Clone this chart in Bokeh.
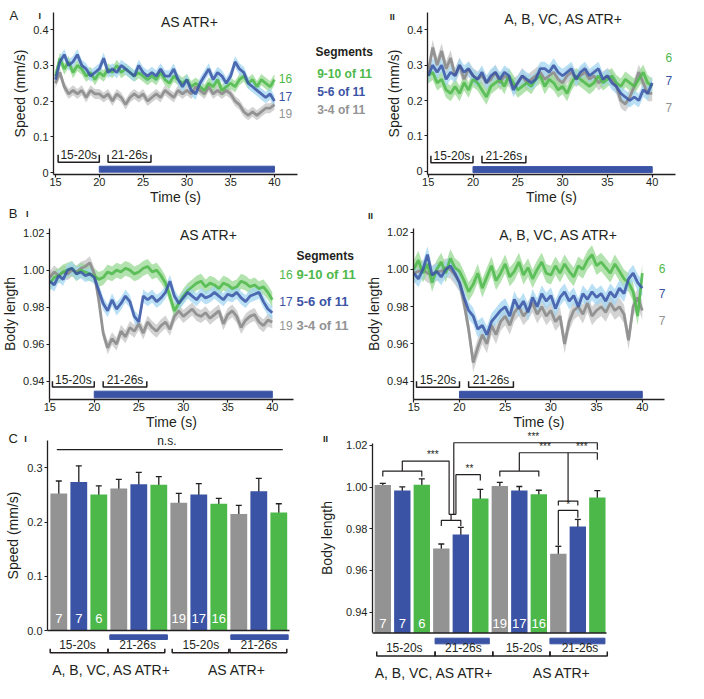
import numpy as np
from bokeh.plotting import figure
from bokeh.models import (Range1d, Label, FixedTicker, ColumnDataSource, Whisker, TeeHead,
                          LinearAxis, PrintfTickFormatter)
from bokeh.layouts import column, row
from bokeh.embed import file_html
from bokeh.resources import INLINE
from bokeh.core.properties import value

FONT = "Liberation Sans"
TXT = "#231f20"
GRAY, BLUE, GREEN = "#939393", "#3a53a4", "#4db84a"
GRAY_B, BLUE_B, GREEN_B = "#c4c4c4", "#a3d6f1", "#98d892"

# ---------------- data ----------------
time = np.arange(15.0, 40.01, 0.5)
stim_on, stim_off = 20.0, 40.0
win_start = [15.3, 21.0]
win_end = [20.0, 25.9]
win_labels = ["15-20s", "21-26s"]
seg_labels = ["9-10 of 11", "5-6 of 11", "3-4 of 11"]   # green, blue, gray
n_as = [19, 17, 16]       # gray, blue, green (AS ATR+)
n_all = [7, 7, 6]         # gray, blue, green (A, B, VC, AS ATR+)

# A-I speed, AS ATR+
speed_as_green = [0.27,0.32,0.29,0.31,0.28,0.30,0.29,0.27,0.28,0.26,
                  0.28,0.27,0.29,0.28,0.30,0.28,0.29,0.28,0.27,0.28,
                  0.27,0.26,0.27,0.26,0.28,0.26,0.25,0.27,0.26,0.25,
                  0.26,0.24,0.25,0.24,0.23,0.25,0.24,0.26,0.23,0.24,
                  0.25,0.24,0.26,0.27,0.25,0.26,0.24,0.26,0.25,0.24,
                  0.26]
speed_as_blue = [0.26,0.31,0.33,0.30,0.31,0.33,0.30,0.29,0.27,0.28,
                 0.29,0.32,0.28,0.29,0.28,0.30,0.29,0.28,0.27,0.30,
                 0.28,0.27,0.28,0.27,0.29,0.27,0.27,0.29,0.26,0.24,
                 0.26,0.23,0.22,0.25,0.27,0.29,0.26,0.28,0.27,0.25,
                 0.27,0.31,0.29,0.28,0.25,0.24,0.23,0.22,0.21,0.22,
                 0.20]
speed_as_gray = [0.25,0.28,0.24,0.22,0.23,0.22,0.23,0.21,0.23,0.22,
                 0.22,0.21,0.22,0.20,0.22,0.21,0.19,0.21,0.22,0.21,
                 0.22,0.20,0.21,0.22,0.21,0.23,0.22,0.21,0.23,0.22,
                 0.23,0.22,0.24,0.23,0.22,0.24,0.22,0.23,0.22,0.23,
                 0.22,0.20,0.19,0.17,0.16,0.17,0.16,0.17,0.18,0.18,
                 0.19]
# A-II speed, A, B, VC, AS ATR+
speed_all_gray = [0.28,0.35,0.30,0.34,0.29,0.32,0.27,0.30,0.26,0.29,
                  0.27,0.26,0.27,0.25,0.26,0.28,0.25,0.27,0.26,0.24,
                  0.25,0.27,0.25,0.26,0.27,0.28,0.26,0.27,0.28,0.26,
                  0.25,0.27,0.28,0.26,0.27,0.28,0.26,0.27,0.25,0.26,
                  0.27,0.26,0.24,0.20,0.19,0.21,0.24,0.28,0.25,0.22,
                  0.22]
speed_all_blue = [0.27,0.30,0.28,0.30,0.26,0.28,0.27,0.30,0.28,0.29,
                  0.27,0.26,0.28,0.25,0.27,0.28,0.26,0.28,0.27,0.23,
                  0.25,0.27,0.26,0.25,0.26,0.29,0.29,0.28,0.30,0.28,
                  0.27,0.28,0.29,0.26,0.28,0.29,0.27,0.28,0.29,0.26,
                  0.27,0.25,0.24,0.22,0.21,0.20,0.21,0.20,0.23,0.22,
                  0.25]
speed_all_green = [0.27,0.28,0.25,0.26,0.23,0.22,0.24,0.22,0.25,0.23,
                   0.26,0.25,0.23,0.21,0.24,0.25,0.26,0.24,0.27,0.25,
                   0.23,0.24,0.25,0.24,0.26,0.27,0.24,0.26,0.25,0.23,
                   0.24,0.22,0.25,0.27,0.26,0.25,0.24,0.25,0.27,0.25,
                   0.26,0.27,0.25,0.24,0.26,0.25,0.24,0.26,0.28,0.25,
                   0.24]
# B-I body length, AS ATR+
bl_as_green = [0.993,0.996,0.997,0.999,1.000,1.001,0.998,1.000,0.999,0.998,
               0.997,0.995,0.996,0.999,0.998,1.000,0.999,1.001,1.000,0.998,
               0.999,1.001,1.002,0.999,1.000,0.997,0.993,0.986,0.978,0.982,
               0.986,0.989,0.991,0.993,0.994,0.991,0.993,0.992,0.990,0.993,
               0.992,0.990,0.991,0.994,0.993,0.991,0.992,0.990,0.991,0.988,
               0.984]
bl_as_blue = [0.994,0.992,0.997,0.995,1.000,1.001,0.998,0.999,0.997,0.998,
              0.996,0.989,0.982,0.978,0.984,0.979,0.982,0.986,0.983,0.975,
              0.972,0.986,0.984,0.986,0.983,0.985,0.988,0.994,0.986,0.982,
              0.985,0.988,0.986,0.984,0.987,0.985,0.986,0.988,0.986,0.984,
              0.987,0.986,0.988,0.985,0.983,0.986,0.987,0.988,0.983,0.979,
              0.977]
bl_as_gray = [0.996,0.999,0.997,0.999,0.998,1.000,0.999,1.001,1.002,1.004,
              0.998,0.984,0.966,0.958,0.963,0.960,0.967,0.964,0.969,0.967,
              0.971,0.966,0.972,0.969,0.967,0.970,0.972,0.968,0.975,0.978,
              0.975,0.977,0.979,0.976,0.975,0.977,0.974,0.976,0.978,0.971,
              0.976,0.978,0.975,0.969,0.973,0.975,0.976,0.972,0.970,0.973,
              0.972]
# B-II body length, A, B, VC, AS ATR+
bl_all_green = [1.000,1.005,0.998,1.003,0.993,1.000,1.004,0.998,1.006,1.001,
                0.999,0.994,0.988,0.992,0.998,0.990,0.996,1.002,0.994,0.998,
                1.003,0.996,0.999,1.004,0.997,1.001,0.995,1.000,1.004,0.998,
                0.997,1.002,0.998,1.003,0.999,0.996,1.002,1.000,1.005,1.008,
                1.002,1.004,1.001,0.998,1.003,0.999,0.995,0.993,0.988,0.975,
                0.998]
bl_all_blue = [0.998,0.995,1.000,1.008,0.997,0.999,0.996,1.000,1.002,0.998,
               0.993,0.985,0.978,0.975,0.968,0.970,0.965,0.972,0.975,0.978,
               0.980,0.975,0.984,0.979,0.983,0.977,0.985,0.980,0.987,0.983,
               0.986,0.979,0.985,0.988,0.983,0.986,0.980,0.987,0.984,0.988,
               0.985,0.987,0.983,0.988,0.985,0.990,0.987,0.995,0.998,0.993,
               0.990]
bl_all_gray = [0.998,0.999,1.000,0.998,0.997,0.999,0.999,1.001,1.000,0.997,
               0.993,0.982,0.968,0.950,0.958,0.965,0.960,0.970,0.965,0.972,
               0.975,0.970,0.977,0.980,0.975,0.978,0.982,0.976,0.980,0.975,
               0.978,0.972,0.975,0.960,0.972,0.978,0.980,0.976,0.982,0.975,
               0.978,0.980,0.977,0.982,0.978,0.980,0.976,0.962,0.980,0.985,
               0.978]
sem_speed_as = [0.014, 0.016, 0.016]     # gray, blue, green
sem_speed_all = [0.022, 0.02, 0.022]
sem_bl_as = [0.0035, 0.0035, 0.004]
sem_bl_all = [0.005, 0.0045, 0.005]

# C bars: order per window gray, blue, green; windows: ALL 15-20, ALL 21-26, AS 15-20, AS 21-26
bar_speed = [0.253, 0.274, 0.251, 0.262, 0.270, 0.269, 0.236, 0.251, 0.234, 0.215, 0.257, 0.218]
bar_speed_sem = [0.023, 0.030, 0.016, 0.017, 0.022, 0.015, 0.017, 0.020, 0.010, 0.016, 0.024, 0.016]
bar_bl = [1.001, 0.9984, 1.0011, 0.9706, 0.9773, 0.9946, 1.0006, 0.9984, 0.9966, 0.968, 0.9811, 0.995]
bar_bl_sem = [0.0008, 0.0017, 0.0029, 0.0021, 0.0034, 0.0043, 0.0017, 0.0019, 0.0019, 0.0036, 0.0034, 0.0033]
bar_colors = [GRAY, BLUE, GREEN] * 4

FRAMES = {}


# ---------------- helpers ----------------
def style_axis(ax, tick_fmt):
    ax.axis_line_color = TXT
    ax.axis_line_width = 1.3
    ax.major_tick_line_color = TXT
    ax.major_tick_line_width = 1.2
    ax.major_tick_out = 3
    ax.major_tick_in = 0
    ax.minor_tick_line_color = None
    ax.major_label_text_font = FONT
    ax.major_label_text_font_size = "11px"
    ax.major_label_text_color = TXT
    ax.axis_label_text_font = FONT
    ax.axis_label_text_font_size = "14px"
    ax.axis_label_text_font_style = "normal"
    ax.axis_label_text_color = TXT
    ax.major_label_standoff = 2
    ax.axis_label_standoff = 2
    ax.formatter = PrintfTickFormatter(format=tick_fmt)


def make_fig(w, h, frame, origin, xr, yr):
    """frame: pixel box of the axes area in page coordinates; the whole canvas is the plot frame."""
    L, R, T, B = frame
    ox, oy = origin
    sx = (xr[1] - xr[0]) / (R - L)
    sy = (yr[1] - yr[0]) / (B - T)
    fx = (xr[0] - (L - ox) * sx, xr[1] + (ox + w - R) * sx)
    fy = (yr[0] - (oy + h - B) * sy, yr[1] + (T - oy) * sy)
    p = figure(width=w, height=h, x_range=Range1d(*fx), y_range=Range1d(*fy),
               output_backend="svg", toolbar_location=None,
               x_axis_location=None, y_axis_location=None,
               min_border_left=0, min_border_right=0, min_border_top=0, min_border_bottom=0)
    p.outline_line_color = None
    p.xgrid.visible = False
    p.ygrid.visible = False
    FRAMES[p.id] = (L, R, T, B, xr, yr)
    return p


def add_y_axis(p, ticks, bounds, label_text, fmt, overrides=None, standoff=2):
    L, R, T, B, xr, yr = FRAMES[p.id]
    ax = LinearAxis(fixed_location=xr[0], bounds=bounds, ticker=FixedTicker(ticks=ticks),
                    axis_label=label_text)
    style_axis(ax, fmt)
    ax.axis_label_standoff = standoff
    if overrides:
        ax.major_label_overrides = overrides
    p.add_layout(ax, "left")


def add_x_axis(p, ticks, label_text):
    L, R, T, B, xr, yr = FRAMES[p.id]
    ax = LinearAxis(fixed_location=yr[0], bounds=xr, ticker=FixedTicker(ticks=ticks),
                    axis_label=label_text)
    style_axis(ax, "%d")
    ax.major_label_standoff = 0
    ax.axis_label_standoff = 0
    p.add_layout(ax, "below")


def to_data(p, ix, iy):
    L, R, T, B, xr, yr = FRAMES[p.id]
    x = xr[0] + (ix - L) / (R - L) * (xr[1] - xr[0])
    y = yr[1] - (iy - T) / (B - T) * (yr[1] - yr[0])
    return x, y


def label(p, ix, iy, text, size="12px", color=TXT, style="normal", align="center"):
    x, y = to_data(p, ix, iy)
    p.add_layout(Label(x=x, y=y, text=text, text_font=FONT, text_font_size=size,
                       text_color=color, text_font_style=style, text_align=align,
                       text_baseline="middle"))


def traces(p, series, sems, order):
    cols = [GRAY, BLUE, GREEN]
    bands = [GRAY_B, BLUE_B, GREEN_B]
    alphas = [1.0, 0.85, 0.85]
    for i in order:
        y = np.array(series[i])
        p.varea(x=time, y1=y - sems[i], y2=y + sems[i], fill_color=bands[i], fill_alpha=0.75)
    for i in order:
        y = np.array(series[i])
        p.line(time, y, line_color=cols[i], line_width=2.8, line_alpha=alphas[i])


def stim_and_windows(p, yb, yt, lb, lt):
    p.quad(left=[stim_on], right=[stim_off], bottom=[yb], top=[yt], color=BLUE)
    for s, e, lab in zip(win_start, win_end, win_labels):
        p.line([s, s, e, e], [lt, lb, lb, lt], line_color=TXT, line_width=1.5)
        p.text(x=[(s + e) / 2], y=[lb], text=[lab], text_font=value(FONT), text_font_size="12px",
               text_align="center", text_baseline="bottom", text_color=TXT)


# ---------------- row A (page y 0..206) ----------------
a1 = make_fig(378, 206, (53, 297, 12, 174), (0, 0), (14.77, 42.63), (-0.0056, 0.448))
a2 = make_fig(326, 206, (427, 675, 12, 174), (378, 0), (14.92, 42.60), (-0.0093, 0.449))
for p, ser, sems in [(a1, [speed_as_gray, speed_as_blue, speed_as_green], sem_speed_as),
                     (a2, [speed_all_gray, speed_all_blue, speed_all_green], sem_speed_all)]:
    yr = FRAMES[p.id][5]
    add_y_axis(p, [0, 0.1, 0.2, 0.3, 0.4], yr, "Speed (mm/s)", "%.1f", {0: "0"})
    add_x_axis(p, [15, 20, 25, 30, 35, 40], "Time (s)")
    traces(p, ser, sems, [0, 2, 1])
stim_and_windows(a1, 0.001, 0.0176, 0.029, 0.0495)
stim_and_windows(a2, -0.004, 0.013, 0.024, 0.044)

label(a1, 13.3, 15, "A", "13px")
label(a1, 39.3, 15, "I", "9px", style="bold")
label(a1, 189.3, 21.7, "AS ATR+", "14px")
label(a1, 285, 77.7, str(n_as[2]), "12px", GREEN)
label(a1, 285, 96, str(n_as[1]), "12px", BLUE)
label(a1, 285, 113, str(n_as[0]), "12px", GRAY)
label(a1, 315, 51.7, "Segments", "12px", TXT, "bold", "left")
label(a1, 316.7, 73.7, seg_labels[0], "12px", GREEN, "bold", "left")
label(a1, 316.7, 91, seg_labels[1], "12px", BLUE, "bold", "left")
label(a1, 316.7, 109, seg_labels[2], "12px", GRAY, "bold", "left")

label(a2, 391.7, 16, "II", "9px", style="bold")
label(a2, 563.3, 18.3, "A, B, VC, AS ATR+", "14px")
label(a2, 668.3, 56.7, str(n_all[2]), "12px", GREEN)
label(a2, 668.3, 80, str(n_all[1]), "12px", BLUE)
label(a2, 668.3, 106.7, str(n_all[0]), "12px", GRAY)

# ---------------- row B (page y 206..431) ----------------
b1 = make_fig(362, 225, (49, 293, 228, 399), (0, 206), (14.97, 42.38), (0.9301, 1.0225))
b2 = make_fig(342, 225, (413, 664, 228, 399), (362, 206), (14.97, 42.43), (0.9302, 1.022))
for p, ser, sems in [(b1, [bl_as_gray, bl_as_blue, bl_as_green], sem_bl_as),
                     (b2, [bl_all_gray, bl_all_blue, bl_all_green], sem_bl_all)]:
    yr = FRAMES[p.id][5]
    add_y_axis(p, [0.94, 0.96, 0.98, 1.00, 1.02], yr, "Body length", "%.2f")
    add_x_axis(p, [15, 20, 25, 30, 35, 40], "Time (s)")
    traces(p, ser, sems, [0, 2, 1])
    stim_and_windows(p, 0.931, 0.9346, 0.9368, 0.940)

label(b1, 12.7, 213, "B", "13px")
label(b1, 26.7, 213, "I", "9px", style="bold")
label(b1, 208.3, 234, "AS ATR+", "14px")
label(b1, 285.5, 274, str(n_as[2]), "12px", GREEN)
label(b1, 285.5, 301, str(n_as[1]), "12px", BLUE)
label(b1, 285.5, 325, str(n_as[0]), "12px", GRAY)
label(b1, 296, 255, "Segments", "12px", TXT, "bold", "left")
label(b1, 296, 274, seg_labels[0], "13px", GREEN, "bold", "left")
label(b1, 296, 301, seg_labels[1], "13px", BLUE, "bold", "left")
label(b1, 296, 325, seg_labels[2], "13px", GRAY, "bold", "left")

label(b2, 370, 215, "II", "9px", style="bold")
label(b2, 558.3, 234, "A, B, VC, AS ATR+", "14px")
label(b2, 661.7, 268.3, str(n_all[2]), "12px", GREEN)
label(b2, 661.7, 293.3, str(n_all[1]), "12px", BLUE)
label(b2, 661.7, 320, str(n_all[0]), "12px", GRAY)

# ---------------- row C (page y 431..699) ----------------
idx = list(range(12))
c1 = make_fig(315, 268, (47, 289, 441, 691), (0, 431), (-0.565, 11.535), (-0.1126, 0.3489))
c2 = make_fig(389, 268, (372, 606, 441, 691), (315, 431), (-0.528, 11.47), (0.90192, 1.0219))


def bars(p, means, sems, base, ticks, bounds, ylabel, fmt, n_y, standoff):
    L, R, T, B, xr, yr = FRAMES[p.id]
    add_y_axis(p, ticks, bounds, ylabel, fmt, standoff=standoff)
    p.vbar(x=idx, top=means, bottom=base, width=0.84, fill_color=bar_colors, line_color=None)
    src = ColumnDataSource(dict(x=idx, up=[m + s for m, s in zip(means, sems)],
                                lo=[m - s for m, s in zip(means, sems)]))
    p.add_layout(Whisker(source=src, base="x", upper="up", lower="lo", line_color=TXT, line_width=1.3,
                         upper_head=TeeHead(size=6, line_color=TXT, line_width=1.3),
                         lower_head=TeeHead(size=6, line_color=TXT, line_width=1.3)))
    p.line([xr[0], xr[1]], [base, base], line_color=TXT, line_width=1.3)
    nx = [0, 1, 2, 6, 7, 8]
    nt = [str(v) for v in n_all] + [str(v) for v in n_as]
    p.text(x=nx, y=[n_y] * 6, text=nt, text_font=value(FONT), text_font_size="13px",
           text_align="center", text_baseline="middle", text_color="white")


bars(c1, bar_speed, bar_speed_sem, 0.0, [0.0, 0.1, 0.2, 0.3], (0, 0.35), "Speed (mm/s)", "%.1f", 0.0216, 3)
bars(c2, bar_bl, bar_bl_sem, 0.93, [0.94, 0.96, 0.98, 1.00, 1.02], (0.93, 1.021), "Body length", "%.2f", 0.9347, 8)


def window_marks(p, stim_x, stim_y, br_x, br_y, txt_x, grp_x, grp_y):
    p.quad(left=[stim_x[0][0], stim_x[1][0]], right=[stim_x[0][1], stim_x[1][1]],
           bottom=[stim_y[0]] * 2, top=[stim_y[1]] * 2, color=BLUE)
    for (s, e) in br_x:
        p.line([s, s, e, e], [br_y[1], br_y[0], br_y[0], br_y[1]], line_color=TXT, line_width=1.5)
    p.text(x=txt_x, y=[br_y[0] + (br_y[1] - br_y[0]) * 0.15] * 4, text=win_labels * 2,
           text_font=value(FONT), text_font_size="12px", text_align="center",
           text_baseline="bottom", text_color=TXT)
    p.text(x=grp_x, y=[grp_y] * 2, text=["A, B, VC, AS ATR+", "AS ATR+"],
           text_font=value(FONT), text_font_size="14px", text_align="center",
           text_baseline="middle", text_color=TXT)


window_marks(c1, [(2.55, 5.43), (8.6, 11.47)], (-0.0166, -0.008),
             [(-0.43, 2.46), (2.46, 5.3), (5.67, 8.5), (8.56, 11.4)], (-0.041, -0.0338),
             [0.935, 3.94, 7.1, 10.0], [2.65, 8.9], -0.0738)
window_marks(c2, [(2.68, 5.46), (8.57, 11.39)], (0.9248, 0.9275),
             [(-0.31, 2.68), (2.68, 5.64), (5.64, 8.57), (8.57, 11.51)], (0.9189, 0.9211),
             [1.1, 4.13, 7.24, 10.11], [2.64, 9.17], 0.9107)

# n.s. line in C-I
c1.line([-0.1, 11.2], [0.334, 0.334], line_color=TXT, line_width=1.2)
c1.text(x=[5.4], y=[0.336], text=["n.s."], text_font=value(FONT), text_font_size="12px",
        text_align="center", text_baseline="bottom", text_color=TXT)

# significance brackets in C-II
sig_xs = [[0, 0, 2, 2], [1, 1, 3.4, 3.4], [3, 3, 4, 4], [3.4, 3.75], [3.75, 3.75, 5, 5],
          [3.64, 3.64, 11, 11], [6, 6, 8, 8], [7, 7, 11, 11], [9.5, 9.5], [9, 9, 10, 10],
          [9, 9, 10, 10]]
sig_ys = [[1.0051, 1.0077, 1.0077, 1.0051], [1.0077, 1.0125, 1.0125, 0.9869],
          [0.9813, 0.984, 0.984, 0.9813], [0.9869, 0.9869], [0.9869, 1.0060, 1.0060, 1.0032],
          [0.9869, 1.0213, 1.0213, 1.018], [1.0051, 1.0077, 1.0077, 1.0051],
          [1.0077, 1.0165, 1.0165, 1.0131], [1.0165, 0.9933], [0.9912, 0.9933, 0.9933, 0.9912],
          [0.972, 0.9888, 0.9888, 0.9853]]
c2.multi_line(xs=sig_xs, ys=sig_ys, line_color=TXT, line_width=1.2)
c2.line([3.5, 3.5], [0.984, 0.9869], line_color=TXT, line_width=1.2)
c2.text(x=[2.56, 4.44, 7.72, 8.32, 10.2, 9.5], y=[1.0128, 1.0063, 1.0216, 1.0168, 1.0168, 0.9892],
        text=["***", "**", "***", "***", "***", "*"], text_font=value(FONT), text_font_size="10px",
        text_align="center", text_baseline="bottom", text_color=TXT)

label(c1, 12.7, 438, "C", "13px")
label(c1, 25, 438, "I", "9px", style="bold")
label(c2, 325, 438, "II", "9px", style="bold")

layout = column(row(a1, a2), row(b1, b2), row(c1, c2))
open("out.html", "w").write(file_html(layout, INLINE))
